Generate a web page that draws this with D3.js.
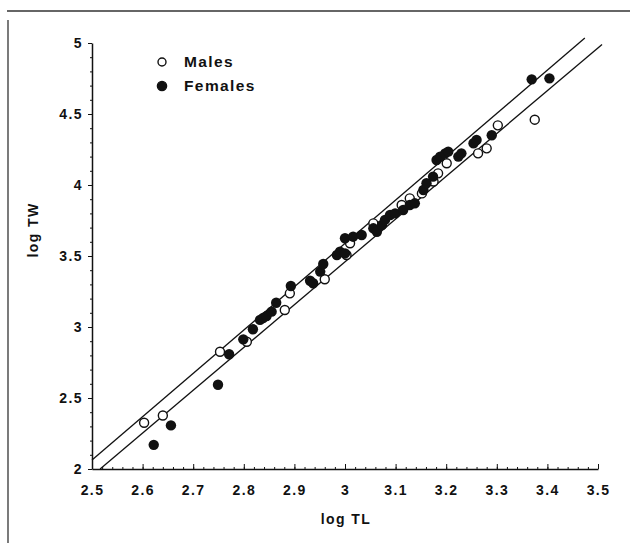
<!DOCTYPE html>
<html>
<head>
<meta charset="utf-8">
<script src="https://cdn.jsdelivr.net/npm/d3@7"></script>
<style>
  body { margin: 0; background: #fff; }
  text { font-family: "Liberation Sans", Arial, sans-serif; font-weight: bold; fill: #111; letter-spacing: 1.4px; }
</style>
</head>
<body>
<div id="main"></div>
<script>
// log TL, log TW
var males = [
  [2.603, 2.326], [2.640, 2.377], [2.753, 2.826], [2.806, 2.896], [2.881, 3.120],
  [2.891, 3.237], [2.960, 3.336], [3.003, 3.507], [3.010, 3.590], [3.056, 3.730],
  [3.112, 3.859], [3.128, 3.906], [3.152, 3.941], [3.175, 4.025], [3.184, 4.082],
  [3.201, 4.153], [3.263, 4.223], [3.280, 4.258], [3.302, 4.420], [3.375, 4.460]
];

var females = [
  [2.622, 2.170], [2.656, 2.307], [2.749, 2.593], [2.771, 2.808], [2.799, 2.913],
  [2.818, 2.984], [2.832, 3.050], [2.838, 3.063], [2.845, 3.077], [2.855, 3.108],
  [2.864, 3.171], [2.893, 3.289], [2.931, 3.326], [2.937, 3.308], [2.951, 3.390],
  [2.957, 3.444], [2.984, 3.507], [2.990, 3.530], [3.000, 3.518], [3.000, 3.625],
  [3.016, 3.636], [3.033, 3.648], [3.056, 3.695], [3.063, 3.671], [3.073, 3.718],
  [3.079, 3.754], [3.089, 3.789], [3.099, 3.800], [3.115, 3.824], [3.128, 3.859],
  [3.138, 3.871], [3.155, 3.965], [3.161, 4.012], [3.174, 4.059], [3.181, 4.176],
  [3.188, 4.200], [3.198, 4.223], [3.204, 4.235], [3.224, 4.200], [3.230, 4.223],
  [3.254, 4.294], [3.260, 4.317], [3.290, 4.350], [3.369, 4.744], [3.404, 4.751]
];

// fitted lines, end points [x1, y1, x2, y2]
var fitLines = [
  [2.500, 2.063, 3.474, 5.035],
  [2.516, 2.000, 3.508, 4.990]
];

var xTicks = [2.5, 2.6, 2.7, 2.8, 2.9, 3, 3.1, 3.2, 3.3, 3.4, 3.5];
var yTicks = [2, 2.5, 3, 3.5, 4, 4.5, 5];

var legendItems = ['Males', 'Females'];

function create_plot() {

  var width = 630;
  var height = 543;

  var svg = d3.select('#main').append('svg')
    .attr('width', width)
    .attr('height', height);

  var xScale = d3.scaleLinear().domain([2.5, 3.5]).range([92, 598]);
  var yScale = d3.scaleLinear().domain([2, 5]).range([469, 43]);

  // scanned page frame
  svg.append('line')
    .attr('x1', 7).attr('x2', width).attr('y1', 11).attr('y2', 11)
    .attr('stroke', '#333').attr('stroke-width', 1.5);

  svg.append('line')
    .attr('x1', 8).attr('x2', 8).attr('y1', 20).attr('y2', height)
    .attr('stroke', '#333').attr('stroke-width', 1.3);

  // minor ticks
  var xMinor = d3.range(2.5, 3.5001, 0.02);
  svg.append('g')
    .attr('transform', 'translate(0,469)')
    .call(d3.axisTop(xScale).tickValues(xMinor).tickSize(2).tickFormat(''))
    .call(function (g) { g.select('.domain').remove(); });

  var yMinor = d3.range(2, 5.0001, 0.1);
  svg.append('g')
    .attr('transform', 'translate(92,0)')
    .call(d3.axisLeft(yScale).tickValues(yMinor).tickSize(2).tickFormat(''))
    .call(function (g) { g.select('.domain').remove(); });

  // x axis
  var xAxis = svg.append('g')
    .attr('transform', 'translate(0,469)')
    .call(d3.axisTop(xScale).tickValues(xTicks).tickSize(5).tickSizeOuter(0).tickFormat(d3.format('')));

  xAxis.selectAll('text')
    .attr('y', 0)
    .attr('dy', '1.85em')
    .attr('font-size', 14);

  // y axis
  var yAxis = svg.append('g')
    .attr('transform', 'translate(92,0)')
    .call(d3.axisLeft(yScale).tickValues(yTicks).tickSize(4).tickSizeOuter(0).tickFormat(d3.format('')));

  yAxis.selectAll('text')
    .attr('x', -9)
    .attr('font-size', 14);

  svg.selectAll('.domain').attr('stroke', '#111').attr('stroke-width', 1.5);
  svg.selectAll('.tick line').attr('stroke', '#111').attr('stroke-width', 1);

  // axis titles
  svg.append('text')
    .attr('x', 346)
    .attr('y', 524)
    .attr('text-anchor', 'middle')
    .attr('font-size', 14)
    .text('log TL');

  svg.append('text')
    .attr('transform', 'translate(38,230) rotate(-90)')
    .attr('text-anchor', 'middle')
    .attr('font-size', 14)
    .text('log TW');

  // fitted lines
  svg.selectAll('.fit')
    .data(fitLines)
    .enter()
    .append('line')
    .attr('class', 'fit')
    .attr('x1', function (d) { return xScale(d[0]); })
    .attr('y1', function (d) { return yScale(d[1]); })
    .attr('x2', function (d) { return xScale(d[2]); })
    .attr('y2', function (d) { return yScale(d[3]); })
    .attr('stroke', '#111')
    .attr('stroke-width', 1.3);

  // points
  svg.selectAll('.male')
    .data(males)
    .enter()
    .append('circle')
    .attr('class', 'male')
    .attr('cx', function (d) { return xScale(d[0]); })
    .attr('cy', function (d) { return yScale(d[1]); })
    .attr('r', 4.5)
    .attr('fill', '#fff')
    .attr('stroke', '#111')
    .attr('stroke-width', 1.4);

  svg.selectAll('.female')
    .data(females)
    .enter()
    .append('circle')
    .attr('class', 'female')
    .attr('cx', function (d) { return xScale(d[0]); })
    .attr('cy', function (d) { return yScale(d[1]); })
    .attr('r', 5.2)
    .attr('fill', '#111');

  // legend
  var legend = svg.append('g');

  legend.selectAll('circle')
    .data(legendItems)
    .enter()
    .append('circle')
    .attr('cx', 162)
    .attr('cy', function (d, i) { return 62 + i * 24; })
    .attr('r', function (d, i) { return i === 0 ? 4 : 4.6; })
    .attr('fill', function (d, i) { return i === 0 ? '#fff' : '#111'; })
    .attr('stroke', '#111')
    .attr('stroke-width', 1.4);

  legend.selectAll('text')
    .data(legendItems)
    .enter()
    .append('text')
    .attr('x', 184)
    .attr('y', function (d, i) { return 67 + i * 24; })
    .attr('font-size', 15.5)
    .text(function (d) { return d; });
}

create_plot();
</script>
</body>
</html>
